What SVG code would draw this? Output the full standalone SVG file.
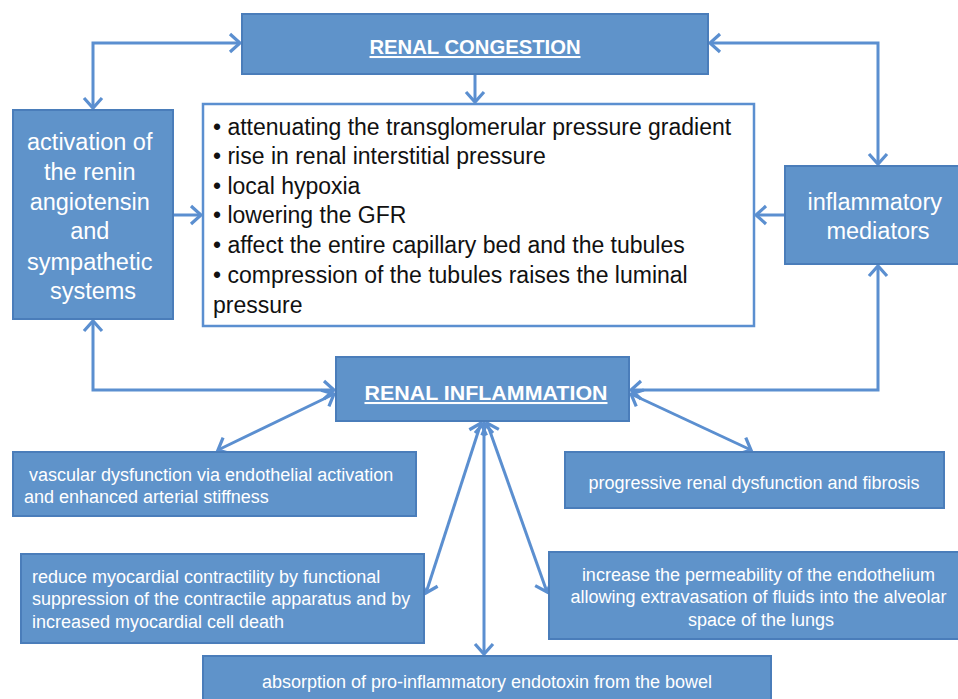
<svg xmlns="http://www.w3.org/2000/svg" width="958" height="699" viewBox="0 0 958 699">
<style>
.box{fill:#5f93ca;stroke:#4a7dba;stroke-width:2}
.wbox{fill:#fff;stroke:#5b8fd0;stroke-width:2.5}
.t{font-family:"Liberation Sans",Arial,sans-serif;fill:#fff}
.h{font-weight:bold;font-size:20.5px;text-decoration:underline}
.big{font-size:23.5px}
.sm{font-size:18px}
.k{font-family:"Liberation Sans",Arial,sans-serif;fill:#111;font-size:23px}
.c{fill:none;stroke:#5b8fd0;stroke-width:3;marker-end:url(#ah)}
.d{marker-start:url(#ah)}
</style>
<defs>
<marker id="ah" markerUnits="userSpaceOnUse" markerWidth="24" markerHeight="24" viewBox="0 0 24 24" refX="14" refY="12" orient="auto-start-reverse">
<path d="M4,3 L14,12 L4,21" fill="none" stroke="#5b8fd0" stroke-width="3.2"/>
</marker>
</defs>
<g id="connectors">
<path class="c d" d="M93,108 V43 H240"/>
<path class="c d" d="M710,43 H878 V164"/>
<path class="c" d="M475,74 V102"/>
<path class="c" d="M173,215 H201"/>
<path class="c" d="M785,215 H756"/>
<path class="c d" d="M93,321 V390 H334"/>
<path class="c d" d="M878,266 V390 H631"/>
<path class="c d" d="M334,394 L218,450"/>
<path class="c d" d="M631,394 L751,450"/>
<path class="c d" d="M481,423 L426,593"/>
<path class="c d" d="M484,423 V654"/>
<path class="c d" d="M487,423 L547,592"/>
</g>
<g id="renal-congestion">
<rect class="box" x="242" y="14" width="466" height="60"/>
<text class="t h" x="475" y="54" text-anchor="middle" textLength="211" lengthAdjust="spacingAndGlyphs">RENAL CONGESTION</text>
</g>
<g id="raas">
<rect class="box" x="13" y="110" width="160" height="209"/>
<text class="t big" text-anchor="middle">
<tspan x="93" y="150">activation of</tspan>
<tspan x="93" y="180">the renin</tspan>
<tspan x="93" y="210">angiotensin</tspan>
<tspan x="93" y="239">and</tspan>
<tspan x="93" y="270">sympathetic</tspan>
<tspan x="93" y="299">systems</tspan>
</text>
</g>
<g id="effects">
<rect class="wbox" x="203" y="104" width="551" height="222"/>
<text class="k">
<tspan x="213" y="135">• attenuating the transglomerular pressure gradient</tspan>
<tspan x="213" y="164">• rise in renal interstitial pressure</tspan>
<tspan x="213" y="194">• local hypoxia</tspan>
<tspan x="213" y="223">• lowering the GFR</tspan>
<tspan x="213" y="253">• affect the entire capillary bed and the tubules</tspan>
<tspan x="213" y="283">• compression of the tubules raises the luminal</tspan>
<tspan x="213" y="313">pressure</tspan>
</text>
</g>
<g id="inflammatory-mediators">
<rect class="box" x="785" y="166" width="180" height="98"/>
<text class="t big" text-anchor="middle">
<tspan x="878" y="210">inflammatory</tspan>
<tspan x="878" y="239">mediators</tspan>
</text>
</g>
<g id="renal-inflammation">
<rect class="box" x="336" y="357" width="293" height="64"/>
<text class="t h" x="486" y="400" text-anchor="middle" textLength="243" lengthAdjust="spacingAndGlyphs">RENAL INFLAMMATION</text>
</g>
<g id="vascular">
<rect class="box" x="13" y="452" width="403" height="64"/>
<text class="t sm">
<tspan x="29" y="481">vascular dysfunction via endothelial activation</tspan>
<tspan x="24" y="503">and enhanced arterial stiffness</tspan>
</text>
</g>
<g id="progressive">
<rect class="box" x="565" y="452" width="379" height="56"/>
<text class="t sm" x="754" y="489" text-anchor="middle">progressive renal dysfunction and fibrosis</text>
</g>
<g id="myocardial">
<rect class="box" x="21" y="554" width="403" height="89"/>
<text class="t sm">
<tspan x="32" y="583">reduce myocardial contractility by functional</tspan>
<tspan x="32" y="605">suppression of the contractile apparatus and by</tspan>
<tspan x="32" y="628">increased myocardial cell death</tspan>
</text>
</g>
<g id="permeability">
<rect class="box" x="549" y="552" width="420" height="87"/>
<text class="t sm" text-anchor="middle">
<tspan x="761" y="581">increase the permeability of the endothelium</tspan>
<tspan x="761" y="603">allowing extravasation of fluids into the alveolar</tspan>
<tspan x="761" y="626">space of the lungs</tspan>
</text>
</g>
<g id="endotoxin">
<rect class="box" x="203" y="656" width="568" height="50"/>
<text class="t sm" x="487" y="688" text-anchor="middle">absorption of pro-inflammatory endotoxin from the bowel</text>
</g>
</svg>
